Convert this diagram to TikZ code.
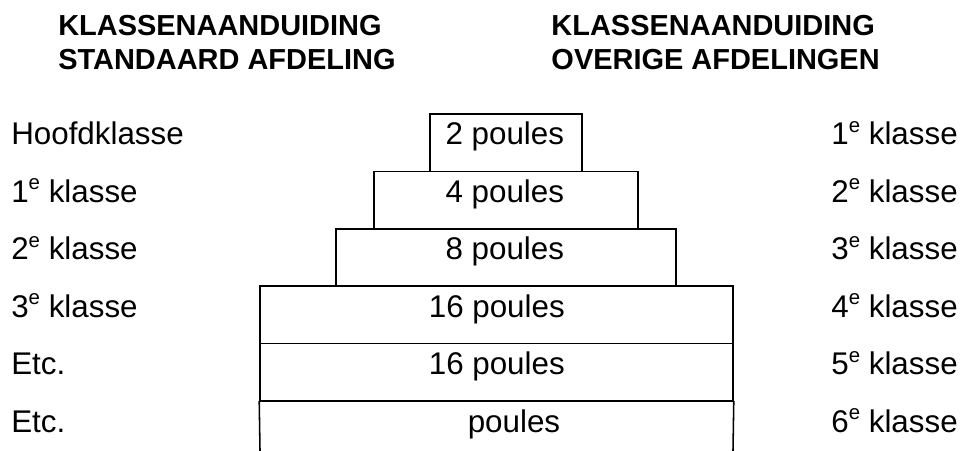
\documentclass[tikz,border=0pt]{standalone}
\usepackage{fontspec}
\setmainfont{Liberation Sans}
\newcommand{\klsup}[1]{\raisebox{0.4em}{\fontsize{14.5}{15}\selectfont #1}}

\begin{document}
\begin{tikzpicture}[
        box/.style={rectangle, draw, line width=1.1pt, minimum height=1.435cm, inner sep=0pt},
        edge/.style={line width=1.1pt, line cap=rect},
        txt/.style={font=\fontsize{22.3}{26}\selectfont, inner sep=0pt},
        head/.style={font=\fontsize{20.6}{24.2}\selectfont\bfseries, align=left, inner sep=0pt, anchor=north west}
    ]
        \useasboundingbox (0,0) rectangle (24.15,11.25);

        \node[head] (headl) at (1.45,10.875) {KLASSENAANDUIDING\\STANDAARD AFDELING};
        \node[head] (headr) at (13.78,10.875) {KLASSENAANDUIDING\\OVERIGE AFDELINGEN};

        \node[box, minimum width=3.8cm] (r1) at (12.65,7.6825) {};
        \node[box, minimum width=6.6cm] (r2) at (12.65,6.2475) {};
        \node[box, minimum width=8.5cm] (r3) at (12.65,4.8125) {};
        \node[box, minimum width=11.825cm] (r4) at (12.4125,3.3775) {};
        \node[box, minimum width=11.825cm] (r5) at (12.4125,1.9425) {};
        \coordinate (r6sw) at (6.5,0);
        \coordinate (r6se) at (18.325,0);
        \draw[edge] (r6sw) -- (r5.south west);
        \draw[edge] (r6se) -- (r5.south east);

        \node[txt, anchor=base] (t1) at (12.62,7.625) {2 poules};
        \node[txt, anchor=base] (t2) at (12.62,6.19) {4 poules};
        \node[txt, anchor=base] (t3) at (12.62,4.755) {8 poules};
        \node[txt, anchor=base] (t4) at (12.42,3.32) {16 poules};
        \node[txt, anchor=base] (t5) at (12.42,1.885) {16 poules};
        \node[txt, anchor=base] (t6) at (12.85,0.45) {poules};

        \node[txt, anchor=base west] (l1) at (0.275,7.625) {Hoofdklasse};
        \node[txt, anchor=base west] (l2) at (0.275,6.19) {1\klsup{e} klasse};
        \node[txt, anchor=base west] (l3) at (0.275,4.755) {2\klsup{e} klasse};
        \node[txt, anchor=base west] (l4) at (0.275,3.32) {3\klsup{e} klasse};
        \node[txt, anchor=base west] (l5) at (0.275,1.885) {Etc.};
        \node[txt, anchor=base west] (l6) at (0.275,0.45) {Etc.};

        \node[txt, anchor=base east] (k1) at (23.95,7.625) {1\klsup{e} klasse};
        \node[txt, anchor=base east] (k2) at (23.95,6.19) {2\klsup{e} klasse};
        \node[txt, anchor=base east] (k3) at (23.95,4.755) {3\klsup{e} klasse};
        \node[txt, anchor=base east] (k4) at (23.95,3.32) {4\klsup{e} klasse};
        \node[txt, anchor=base east] (k5) at (23.95,1.885) {5\klsup{e} klasse};
        \node[txt, anchor=base east] (k6) at (23.95,0.45) {6\klsup{e} klasse};
    \end{tikzpicture}
\end{document}
